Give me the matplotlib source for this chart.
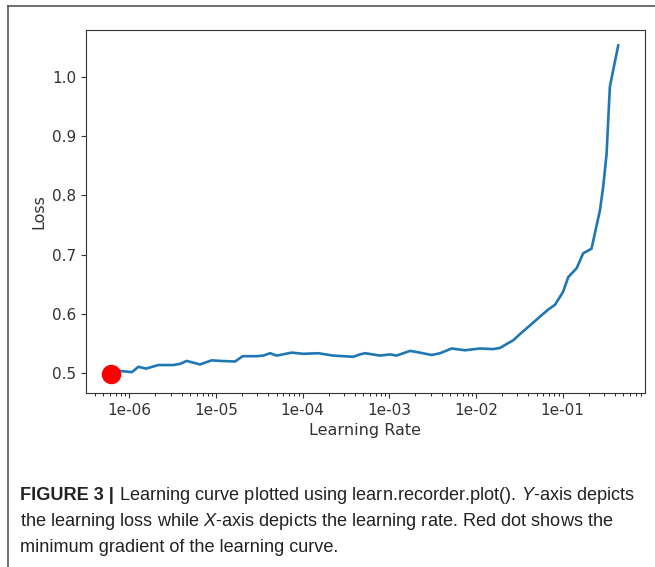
import matplotlib
matplotlib.use("Agg")
import matplotlib.pyplot as plt
from matplotlib.ticker import FuncFormatter, LogLocator, NullFormatter, FixedLocator
from matplotlib.lines import Line2D

# learning rate finder output (lr, smoothed loss)
lrs = [6.15e-7, 7.82e-7, 1.07e-6, 1.27e-6, 1.56e-6, 2.16e-6, 3.22e-6, 3.85e-6,
       4.59e-6, 6.53e-6, 8.91e-6, 1.11e-5, 1.66e-5, 2.03e-5, 2.94e-5, 3.52e-5,
       4.20e-5, 5.01e-5, 7.46e-5, 1.02e-4, 1.51e-4, 2.25e-4, 3.84e-4, 4.58e-4,
       5.24e-4, 7.80e-4, 1.02e-3, 1.21e-3, 1.73e-3, 2.25e-3, 3.08e-3, 3.84e-3,
       5.24e-3, 7.45e-3, 1.11e-2, 1.58e-2, 1.89e-2, 2.69e-2, 3.36e-2, 4.19e-2,
       5.47e-2, 6.81e-2, 8.15e-2, 0.101, 0.116, 0.145, 0.172, 0.215, 0.235,
       0.269, 0.293, 0.321, 0.335, 0.350, 0.382, 0.437]
losses = [0.498, 0.503, 0.501, 0.510, 0.507, 0.513, 0.513, 0.515,
          0.520, 0.514, 0.521, 0.520, 0.519, 0.528, 0.528, 0.529,
          0.533, 0.529, 0.534, 0.532, 0.533, 0.529, 0.527, 0.531,
          0.533, 0.529, 0.531, 0.529, 0.537, 0.534, 0.530, 0.533,
          0.541, 0.538, 0.541, 0.540, 0.542, 0.555, 0.568, 0.580,
          0.595, 0.607, 0.615, 0.637, 0.662, 0.677, 0.702, 0.710, 0.736,
          0.775, 0.815, 0.871, 0.928, 0.984, 1.012, 1.054]

# point of steepest descent marked in red
min_grad_lr = 6.15e-7
min_grad_loss = 0.498

x_ticks = [1e-6, 1e-5, 1e-4, 1e-3, 1e-2, 1e-1]
y_ticks = [0.5, 0.6, 0.7, 0.8, 0.9, 1.0]

caption_bold = "FIGURE 3 |"
caption_lines = [
    " Learning curve plotted using learn.recorder.plot(). $Y$-axis depicts",
    "the learning loss while $X$-axis depicts the learning rate. Red dot shows the",
    "minimum gradient of the learning curve.",
]

plt.rcParams["mathtext.fontset"] = "custom"
plt.rcParams["mathtext.it"] = "Liberation Sans:italic"
plt.rcParams["mathtext.rm"] = "Liberation Sans"

fig = plt.figure(figsize=(6.55, 5.67), dpi=100)
ax = fig.add_axes([0.1313, 0.3069, 0.8534, 0.6401])

ax.plot(lrs, losses, color="#1f77b4", lw=1.9)
ax.plot(min_grad_lr, min_grad_loss, "o", color="red", markersize=13)

ax.set_xscale("log")
ax.set_xlim(10 ** -6.5, 10 ** -0.051)
ax.set_ylim(0.4657, 1.080)
ax.set_yticks(y_ticks)
ax.yaxis.set_major_formatter(FuncFormatter(lambda v, _: f"{v:.1f}"))
ax.xaxis.set_major_locator(FixedLocator(x_ticks))
ax.xaxis.set_minor_locator(LogLocator(base=10, subs=range(2, 10)))
ax.xaxis.set_major_formatter(FuncFormatter(lambda v, _: f"{v:.0e}"))
ax.xaxis.set_minor_formatter(NullFormatter())
ax.tick_params(labelsize=11, colors="#333333", labelcolor="#333333")
ax.set_xlabel("Learning Rate", fontsize=11.5, color="#333333")
ax.set_ylabel("Loss", fontsize=11.5, color="#333333")
for s in ax.spines.values():
    s.set_color("#333333")

# open frame around the figure panel: top and left edges
fx, fy = 8 / 655, 1 - 6 / 567
fig.add_artist(Line2D([fx, 1], [fy, fy], transform=fig.transFigure,
                      color="#555555", lw=1.2))
fig.add_artist(Line2D([fx, fx], [0, fy], transform=fig.transFigure,
                      color="#555555", lw=1.2))

cap_font = dict(family="Liberation Sans", fontsize=13.1, color="#222222")
x0, y0 = 20 / 655, 1 - 495 / 567
t = fig.text(x0, y0, caption_bold, fontweight="bold", va="center", **cap_font)
fig.canvas.draw()
bb = t.get_window_extent()
fig.text(bb.x1 / 655, y0, caption_lines[0], va="center", **cap_font)
for i, line in enumerate(caption_lines[1:], start=1):
    fig.text(x0, 1 - (495 + 26 * i) / 567, line, va="center", **cap_font)

fig.savefig("out.png", dpi=100)
